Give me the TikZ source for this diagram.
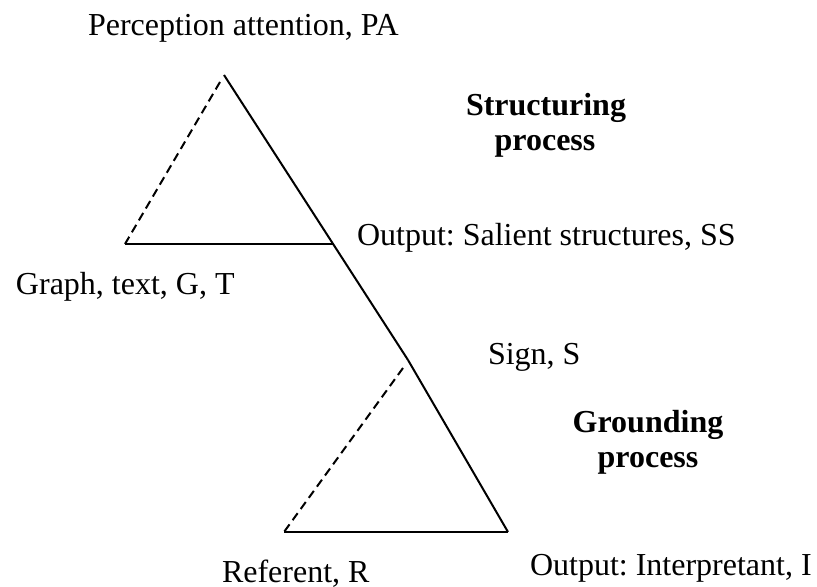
\documentclass[tikz,border=0pt]{standalone}
\usepackage{fontspec}
\setmainfont{Liberation Serif}
\frenchspacing
\begin{document}
\begin{tikzpicture}[x=0.5pt,y=-0.5pt,
  lbl/.style={inner sep=0pt,outer sep=0pt,font=\fontsize{16}{19}\selectfont},
  blbl/.style={lbl,font=\fontsize{16}{19}\selectfont\bfseries},
  solidline/.style={line width=1pt},
  dashline/.style={line width=1pt,dash pattern=on 4.3pt off 2.6pt}]
\useasboundingbox (0,0) rectangle (817,587);
% vertices
\coordinate (pa) at (224,75);
\coordinate (gt) at (125,244);
\coordinate (ss) at (333,244);
\coordinate (dtop1) at (220,82);
\coordinate (sg) at (408,360);
\coordinate (dtop2) at (403,368);
\coordinate (rf) at (284,532);
\coordinate (it) at (508,532);
% structuring triangle
\draw[dashline] (dtop1) -- (gt);
\draw[solidline] (gt) -- (ss);
\draw[solidline] (pa) -- (sg);
% grounding triangle
\draw[dashline] (dtop2) -- (rf);
\draw[solidline] (rf) -- (it);
\draw[solidline] (sg) -- (it);
% labels
\node[lbl,anchor=base west] (tpa) at (88,36) {Perception attention, PA};
\node[blbl,anchor=base] (tstr1) at (546,116) {Structuring};
\node[blbl,anchor=base] (tstr2) at (545,151) {process};
\node[lbl,anchor=base west] (tss) at (357,246) {Output: Salient structures, SS};
\node[lbl,anchor=base west] (tgt) at (16,294) {Graph, text, G, T};
\node[lbl,anchor=base west] (tsg) at (488,364) {Sign, S};
\node[blbl,anchor=base] (tgr1) at (648,432) {Grounding};
\node[blbl,anchor=base] (tgr2) at (648,467) {process};
\node[lbl,anchor=base west] (tit) at (530,575) {Output: Interpretant, I};
\node[lbl,anchor=base west] (trf) at (222,582) {Referent, R};
\end{tikzpicture}
\end{document}
